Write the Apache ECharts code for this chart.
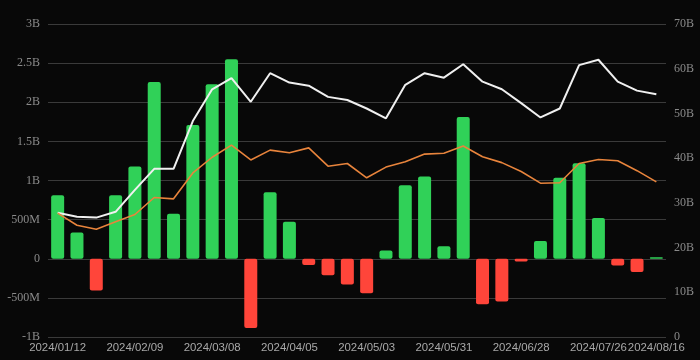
<!DOCTYPE html>
<html>
<head>
<meta charset="utf-8">
<script src="https://cdn.jsdelivr.net/npm/echarts@6/dist/echarts.min.js"></script>
<style>
html,body{margin:0;padding:0;background:#080808;}
#chart{width:700px;height:360px;}
</style>
</head>
<body>
<div id="chart"></div>
<script>
var categories = ['2024/01/12','2024/01/19','2024/01/26','2024/02/02','2024/02/09','2024/02/16','2024/02/23','2024/03/01','2024/03/08','2024/03/15','2024/03/22','2024/03/29','2024/04/05','2024/04/12','2024/04/19','2024/04/26','2024/05/03','2024/05/10','2024/05/17','2024/05/24','2024/05/31','2024/06/07','2024/06/14','2024/06/21','2024/06/28','2024/07/05','2024/07/12','2024/07/19','2024/07/26','2024/08/02','2024/08/09','2024/08/16'];
// weekly net flow (left axis)
var flowValues = [0.81e9,0.336e9,-0.405e9,0.81e9,1.18e9,2.26e9,0.575e9,1.71e9,2.23e9,2.55e9,-0.886e9,0.85e9,0.473e9,-0.08e9,-0.21e9,-0.33e9,-0.44e9,0.106e9,0.94e9,1.05e9,0.16e9,1.81e9,-0.58e9,-0.545e9,-0.035e9,0.226e9,1.035e9,1.22e9,0.52e9,-0.085e9,-0.17e9,0.02e9];
// white line (right axis)
var whiteValues = [27.8e9,26.9e9,26.7e9,28.0e9,32.9e9,37.6e9,37.6e9,48.3e9,55.4e9,57.9e9,52.6e9,59.0e9,56.9e9,56.2e9,53.7e9,53.0e9,51.1e9,48.9e9,56.4e9,59.0e9,58.0e9,61.0e9,57.1e9,55.4e9,52.3e9,49.1e9,51.1e9,60.8e9,62.0e9,57.1e9,55.1e9,54.3e9];
// orange line (right axis)
var orangeValues = [27.7e9,25.0e9,24.1e9,25.8e9,27.4e9,31.2e9,30.9e9,36.7e9,40.2e9,42.9e9,39.6e9,41.8e9,41.2e9,42.3e9,38.2e9,38.8e9,35.6e9,38.0e9,39.2e9,40.9e9,41.1e9,42.7e9,40.3e9,39.0e9,37.0e9,34.4e9,34.5e9,38.8e9,39.7e9,39.4e9,37.2e9,34.7e9];

function fmtLeft(v){
  if (v === 0) return '0';
  if (Math.abs(v) >= 1e9) return (v/1e9) + 'B';
  return (v/1e6) + 'M';
}
function fmtRight(v){
  if (v === 0) return '0';
  return (v/1e9) + 'B';
}

var chart = echarts.init(document.getElementById('chart'));
chart.setOption({
  backgroundColor: '#080808',
  animation: false,
  grid: {left: 48, right: 34, top: 24, bottom: 23, containLabel: false},
  xAxis: {
    type: 'category',
    data: categories,
    boundaryGap: true,
    axisLine: {show: false},
    axisTick: {show: false},
    axisLabel: {
      color: '#a8a8a8',
      fontFamily: 'Liberation Sans',
      fontSize: 11.4,
      margin: 5,
      hideOverlap: false,
      showMinLabel: true,
      showMaxLabel: true,
      interval: function(i){ return i % 4 === 0 || i === categories.length - 1; }
    }
  },
  yAxis: [{
    type: 'value',
    min: -1e9, max: 3e9, interval: 5e8,
    axisLine: {show: false},
    axisTick: {show: false},
    splitLine: {lineStyle: {color: '#3a3a3a', width: 1}},
    axisLabel: {color: '#8a8a8a', fontFamily: 'Liberation Serif', fontSize: 12, margin: 8, formatter: fmtLeft}
  },{
    type: 'value',
    min: 0, max: 70e9, interval: 10e9,
    position: 'right',
    axisLine: {show: false},
    axisTick: {show: false},
    splitLine: {show: false},
    axisLabel: {color: '#8a8a8a', fontFamily: 'Liberation Serif', fontSize: 12, margin: 8, formatter: fmtRight}
  }],
  series: [{
    type: 'bar',
    data: flowValues,
    yAxisIndex: 0,
    barWidth: 13,
    itemStyle: {
      borderRadius: 2,
      color: function(p){ return p.value >= 0 ? '#30d158' : '#ff453a'; }
    }
  },{
    type: 'line',
    data: whiteValues,
    yAxisIndex: 1,
    showSymbol: false,
    lineStyle: {color: '#f0f0f0', width: 2},
    z: 3
  },{
    type: 'line',
    data: orangeValues,
    yAxisIndex: 1,
    showSymbol: false,
    lineStyle: {color: '#e8843c', width: 1.6},
    z: 3
  }]
});
</script>
</body>
</html>
